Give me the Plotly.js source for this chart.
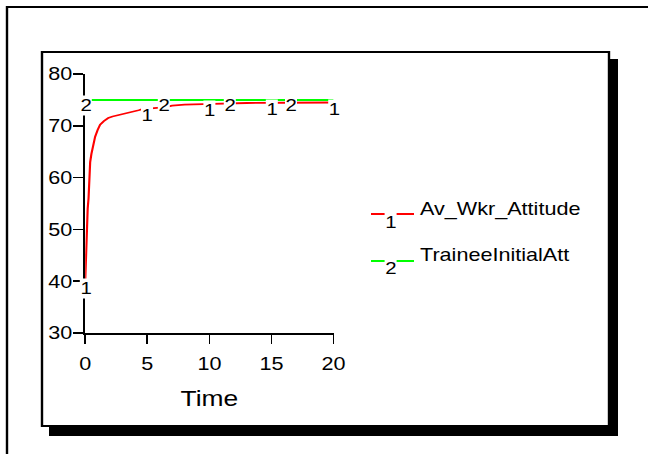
<!DOCTYPE html>
<html>
<head>
<meta charset="utf-8">
<script src="https://cdn.plot.ly/plotly-3.0.1.min.js"></script>
<style>
  html, body { margin: 0; padding: 0; background: #fff; overflow: hidden; }
  #wrap { width: 648px; height: 454px; overflow: hidden; }
  #chart { width: 540px; height: 454px; transform: scaleX(1.2); transform-origin: 0 0; }
</style>
</head>
<body>
<div id="wrap"><div id="chart"></div></div>
<script>
// ---- data ----
const seriesNames = ['Av_Wkr_Attitude', 'TraineeInitialAtt'];
const seriesTags = ['1', '2'];
const timeRed = [0, 0.05, 0.1, 0.15, 0.2, 0.27, 0.32, 0.4, 0.5, 0.65, 0.8, 1.0, 1.2, 1.5, 1.85, 2.2, 2.8, 3.3, 3.9, 4.3, 4.6, 5.5, 6.5, 7.0, 8.0, 9.5, 11, 13, 16, 20];
const avWkrAttitude = [40, 45, 49, 52, 54, 56, 61, 63, 64.6, 66.5, 67.9, 69.2, 70.2, 70.9, 71.5, 71.8, 72.1, 72.4, 72.7, 73.0, 73.2, 73.4, 73.6, 73.9, 74.1, 74.2, 74.3, 74.4, 74.45, 74.5];
const timeGreen = [0, 20];
const traineeInitialAtt = [75, 75];
const labelTimes1 = [0, 5, 10, 15, 20];
const labelTimes2 = [0, 6.3, 11.6, 16.6];
const xTicks = [0, 5, 10, 15, 20];
const yTicks = [30, 40, 50, 60, 70, 80];
const xTitle = 'Time';

// ---- layout geometry (final pixels -> paper) ----
const S = 1.2, W = 540, H = 454, L = 71, R = 262, T = 74, B = 121;
const PW = W - L - R, PH = H - T - B;
function px(X) { return (X / S - L) / PW; }
function py(Y) { return (H - B - Y) / PH; }
function valueAt(ts, vs, t) {
  for (let i = 0; i < ts.length - 1; i++) {
    if (t >= ts[i] && t <= ts[i + 1]) {
      const f = (t - ts[i]) / (ts[i + 1] - ts[i]);
      return vs[i] + f * (vs[i + 1] - vs[i]);
    }
  }
  return vs[vs.length - 1];
}

const FONT = 'Liberation Sans, Arial, sans-serif';
const RED = '#ff0000', GREEN = '#00ff00';

const traces = [
  { x: timeRed, y: avWkrAttitude, mode: 'lines', line: { color: RED, width: 1.8 }, name: seriesNames[0], showlegend: false, hoverinfo: 'skip' },
  { x: timeGreen, y: traineeInitialAtt, mode: 'lines', line: { color: GREEN, width: 2 }, name: seriesNames[1], showlegend: false, hoverinfo: 'skip' }
];

const annotations = [];
labelTimes1.forEach(t => annotations.push({
  x: t, y: valueAt(timeRed, avWkrAttitude, t), xref: 'x', yref: 'y', text: seriesTags[0],
  showarrow: false, yshift: -7, bgcolor: 'white', borderpad: 0,
  font: { family: FONT, size: 17, color: 'black' }
}));
labelTimes2.forEach(t => annotations.push({
  x: t, y: valueAt(timeGreen, traineeInitialAtt, t), xref: 'x', yref: 'y', text: seriesTags[1],
  showarrow: false, yshift: -6, bgcolor: 'white', borderpad: 0,
  font: { family: FONT, size: 17, color: 'black' }
}));

const legendRows = [
  { lineY: 214, tagY: 222, textY: 209, color: RED },
  { lineY: 261, tagY: 268, textY: 255, color: GREEN }
];
const shapes = [
  { type: 'rect', xref: 'paper', yref: 'paper', x0: px(7), y0: py(7), x1: px(720), y1: py(520), line: { color: 'black', width: 2 }, fillcolor: 'rgba(0,0,0,0)', layer: 'below' },
  { type: 'rect', xref: 'paper', yref: 'paper', x0: px(49), y0: py(59), x1: px(618), y1: py(436), line: { width: 0 }, fillcolor: 'black', layer: 'below' },
  { type: 'rect', xref: 'paper', yref: 'paper', x0: px(42), y0: py(52), x1: px(609), y1: py(426), line: { color: 'black', width: 2 }, fillcolor: 'white', layer: 'below' }
];
legendRows.forEach((r, i) => {
  shapes.push({ type: 'line', xref: 'paper', yref: 'paper', x0: px(371), x1: px(414), y0: py(r.lineY), y1: py(r.lineY), line: { color: r.color, width: 2 }, layer: 'below' });
  annotations.push({ xref: 'paper', yref: 'paper', x: px(390), y: py(r.tagY), text: seriesTags[i], showarrow: false, bgcolor: 'white', borderpad: 0, xanchor: 'center', yanchor: 'middle', font: { family: FONT, size: 17, color: 'black' } });
  annotations.push({ xref: 'paper', yref: 'paper', x: px(418), y: py(r.textY), text: seriesNames[i], showarrow: false, xanchor: 'left', yanchor: 'middle', font: { family: FONT, size: 18, color: 'black' } });
});

const layout = {
  width: W, height: H,
  margin: { l: L, r: R, t: T, b: B, pad: 0 },
  paper_bgcolor: 'white', plot_bgcolor: 'rgba(0,0,0,0)',
  showlegend: false,
  font: { family: FONT, color: 'black' },
  xaxis: {
    range: [0, 20], tickmode: 'array', tickvals: xTicks, ticktext: xTicks.map(String),
    showline: true, linecolor: 'black', linewidth: 2, ticks: 'outside', ticklen: 9, tickwidth: 1.4, tickcolor: 'black',
    showgrid: false, zeroline: false, automargin: false, fixedrange: true,
    tickfont: { family: FONT, size: 18, color: 'black' }, ticklabelstandoff: 4,
    title: { text: xTitle, font: { family: FONT, size: 22, color: 'black' }, standoff: 18 }
  },
  yaxis: {
    range: [30, 80], tickmode: 'array', tickvals: yTicks, ticktext: yTicks.map(String),
    showline: true, linecolor: 'black', linewidth: 1.7, ticks: 'outside', ticklen: 8.5, tickwidth: 1.5, tickcolor: 'black',
    showgrid: false, zeroline: false, automargin: false, fixedrange: true,
    tickfont: { family: FONT, size: 18, color: 'black' }, ticklabelstandoff: -3
  },
  shapes: shapes,
  annotations: annotations
};

Plotly.newPlot('chart', traces, layout, { staticPlot: true, displayModeBar: false });
</script>
</body>
</html>
